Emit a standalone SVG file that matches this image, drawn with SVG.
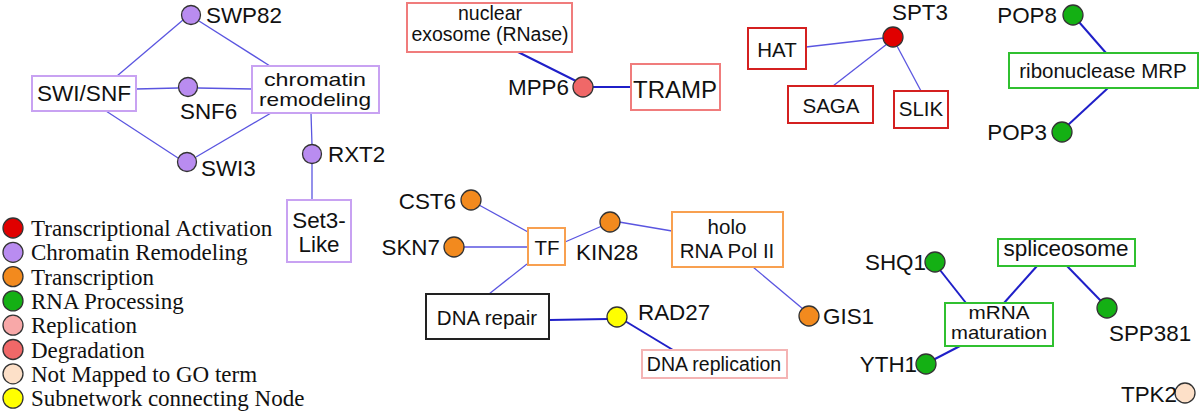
<svg xmlns="http://www.w3.org/2000/svg" width="1200" height="413" viewBox="0 0 1200 413">
<style>
text{font-family:"Liberation Sans",Arial,sans-serif;fill:#111}
.n{font-size:22.4px}
.b{font-size:20.5px;text-anchor:middle}
.lg{font-family:"Liberation Serif","Times New Roman",serif;font-size:23px}
.e{stroke:#5a55e0;stroke-width:1.3;fill:none}
.d{stroke:#1f1fc8;stroke-width:2;fill:none}
circle{stroke:#333;stroke-width:1.3}
rect{fill:#fff;stroke-width:2}
.pu{fill:#b98cf0}.rd{fill:#e00000}.or{fill:#f28a1e}.gr{fill:#14b014}.pk{fill:#f8a8a8}.sa{fill:#f06868}.pe{fill:#fde0c8}.ye{fill:#ffff00}
.bpu{stroke:#c8a2f2}.bsa{stroke:#f07c7c}.brd{stroke:#d42020}.bgr{stroke:#30c030}.bor{stroke:#f8a050}.bbk{stroke:#222}.bpk{stroke:#f4b4b4}
</style>
<g id="connectors">
<line class="e" x1="117" y1="76" x2="183" y2="20"/>
<line class="e" x1="199" y1="21" x2="270" y2="66"/>
<line class="e" x1="136" y1="89" x2="178" y2="88"/>
<line class="e" x1="198" y1="88" x2="252" y2="89"/>
<line class="e" x1="106" y1="111" x2="178" y2="158"/>
<line class="e" x1="196" y1="157" x2="271" y2="113"/>
<line class="e" x1="311" y1="113" x2="312" y2="145"/>
<line class="e" x1="312" y1="164" x2="312" y2="200"/>
<line class="e" x1="806" y1="47" x2="884" y2="38"/>
<line class="e" x1="887" y1="44" x2="833" y2="86"/>
<line class="e" x1="897" y1="46" x2="921" y2="91"/>
<line class="e" x1="479" y1="205" x2="528" y2="232"/>
<line class="e" x1="463" y1="247" x2="528" y2="247"/>
<line class="e" x1="565" y1="242" x2="602" y2="226"/>
<line class="e" x1="619" y1="222" x2="672" y2="231"/>
<line class="e" x1="527" y1="264" x2="489" y2="294"/>
<line class="e" x1="753" y1="267" x2="803" y2="309"/>
<line class="d" x1="518" y1="52" x2="576" y2="81"/>
<line class="d" x1="593" y1="87" x2="631" y2="87"/>
<line class="d" x1="1079" y1="22" x2="1106" y2="53"/>
<line class="d" x1="1108" y1="88" x2="1068" y2="125"/>
<line class="d" x1="549" y1="320" x2="608" y2="319"/>
<line class="d" x1="625" y1="321" x2="673" y2="350"/>
<line class="d" x1="940" y1="270" x2="966" y2="303"/>
<line class="d" x1="1037" y1="266" x2="1004" y2="303"/>
<line class="d" x1="1067" y1="266" x2="1101" y2="301"/>
<line class="d" x1="960" y1="346" x2="933" y2="360"/>
</g>
<g id="SWP82"><circle class="pu" cx="191" cy="15" r="9.5"/><text class="n" x="206" y="23">SWP82</text></g>
<g id="SWI_SNF"><rect class="bpu" x="32" y="76" width="104" height="35"/><text class="b" x="84" y="101" style="font-size:22.6px">SWI/SNF</text></g>
<g id="SNF6"><circle class="pu" cx="188" cy="87" r="9.5"/><text class="n" x="180" y="119">SNF6</text></g>
<g id="chromatin_remodeling"><rect class="bpu" x="252" y="66" width="127" height="47"/><text class="b" x="315" y="86" style="font-size:18.5px" textLength="102" lengthAdjust="spacingAndGlyphs">chromatin</text><text class="b" x="315" y="106" style="font-size:18.5px" textLength="112" lengthAdjust="spacingAndGlyphs">remodeling</text></g>
<g id="SWI3"><circle class="pu" cx="187" cy="162" r="9.5"/><text class="n" x="201" y="176">SWI3</text></g>
<g id="RXT2"><circle class="pu" cx="312" cy="154" r="9.5"/><text class="n" x="328" y="162">RXT2</text></g>
<g id="Set3_Like"><rect class="bpu" x="287" y="200" width="64" height="62"/><text class="b" x="319" y="228" style="font-size:22.4px">Set3-</text><text class="b" x="319" y="252" style="font-size:22.4px">Like</text></g>
<g id="nuclear_exosome"><rect class="bsa" x="407" y="3" width="165" height="49"/><text class="b" x="490" y="20" style="font-size:19.5px">nuclear</text><text class="b" x="490" y="41" style="font-size:19.5px">exosome (RNase)</text></g>
<g id="MPP6"><circle class="sa" cx="583" cy="87" r="10"/><text class="n" x="569" y="95" text-anchor="end">MPP6</text></g>
<g id="TRAMP"><rect class="bsa" x="631" y="64" width="89" height="46"/><text class="b" x="675" y="98" style="font-size:24px">TRAMP</text></g>
<g id="HAT"><rect class="brd" x="748" y="28" width="58" height="41"/><text class="b" x="777" y="57">HAT</text></g>
<g id="SPT3"><circle class="rd" cx="893" cy="37" r="10"/><text class="n" x="892" y="20">SPT3</text></g>
<g id="SAGA"><rect class="brd" x="788" y="86" width="85" height="37"/><text class="b" x="831" y="113">SAGA</text></g>
<g id="SLIK"><rect class="brd" x="894" y="91" width="54" height="37"/><text class="b" x="921" y="116">SLIK</text></g>
<g id="POP8"><circle class="gr" cx="1073" cy="15" r="10"/><text class="n" x="1057" y="23" text-anchor="end">POP8</text></g>
<g id="ribonuclease_MRP"><rect class="bgr" x="1009" y="53" width="189" height="35"/><text class="b" x="1103" y="78">ribonuclease MRP</text></g>
<g id="POP3"><circle class="gr" cx="1062" cy="132" r="10"/><text class="n" x="1047" y="140" text-anchor="end">POP3</text></g>
<g id="CST6"><circle class="or" cx="471" cy="200" r="10"/><text class="n" x="456" y="209" text-anchor="end">CST6</text></g>
<g id="SKN7"><circle class="or" cx="454" cy="247" r="10"/><text class="n" x="440" y="255" text-anchor="end">SKN7</text></g>
<g id="TF"><rect class="bor" x="528" y="228" width="37" height="37"/><text class="b" x="547" y="255">TF</text></g>
<g id="KIN28"><circle class="or" cx="610" cy="222" r="10"/><text class="n" x="576" y="260">KIN28</text></g>
<g id="holo_RNA_Pol_II"><rect class="bor" x="672" y="212" width="111" height="55"/><text class="b" x="727" y="234">holo</text><text class="b" x="727" y="258">RNA Pol II</text></g>
<g id="GIS1"><circle class="or" cx="809" cy="316" r="10"/><text class="n" x="823" y="324">GIS1</text></g>
<g id="DNA_repair"><rect class="bbk" x="426" y="294" width="123" height="45"/><text class="b" x="487" y="325">DNA repair</text></g>
<g id="RAD27"><circle class="ye" cx="617" cy="317" r="10"/><text class="n" x="638" y="320">RAD27</text></g>
<g id="DNA_replication"><rect class="bpk" x="642" y="350" width="145" height="28"/><text class="b" x="714" y="371" style="font-size:19.5px">DNA replication</text></g>
<g id="SHQ1"><circle class="gr" cx="935" cy="262" r="10"/><text class="n" x="926" y="270" text-anchor="end">SHQ1</text></g>
<g id="spliceosome"><rect class="bgr" x="998" y="239" width="137" height="27"/><text class="b" x="1066" y="256" style="font-size:22.5px">spliceosome</text></g>
<g id="mRNA_maturation"><rect class="bgr" x="945" y="303" width="108" height="43"/><text class="b" x="999" y="319" style="font-size:18.5px" textLength="61" lengthAdjust="spacingAndGlyphs">mRNA</text><text class="b" x="999" y="339" style="font-size:18.5px" textLength="96" lengthAdjust="spacingAndGlyphs">maturation</text></g>
<g id="SPP381"><circle class="gr" cx="1107" cy="308" r="10"/><text class="n" x="1109" y="341">SPP381</text></g>
<g id="YTH1"><circle class="gr" cx="926" cy="364" r="10"/><text class="n" x="917" y="372" text-anchor="end">YTH1</text></g>
<g id="TPK2"><circle class="pe" cx="1185" cy="393" r="10"/><text class="n" x="1177" y="402" text-anchor="end">TPK2</text></g>
<g id="legend">
<circle class="rd" cx="13" cy="228" r="10"/><text class="lg" x="31" y="236">Transcriptional Activation</text>
<circle class="pu" cx="13" cy="252.3" r="10"/><text class="lg" x="31" y="260.3">Chromatin Remodeling</text>
<circle class="or" cx="13" cy="276.6" r="10"/><text class="lg" x="31" y="284.6">Transcription</text>
<circle class="gr" cx="13" cy="300.9" r="10"/><text class="lg" x="31" y="308.9">RNA Processing</text>
<circle class="pk" cx="13" cy="325.2" r="10"/><text class="lg" x="31" y="333.2">Replication</text>
<circle class="sa" cx="13" cy="349.5" r="10"/><text class="lg" x="31" y="357.5">Degradation</text>
<circle class="pe" cx="13" cy="373.8" r="10"/><text class="lg" x="31" y="381.8">Not Mapped to GO term</text>
<circle class="ye" cx="13" cy="398.1" r="10"/><text class="lg" x="31" y="406.1">Subnetwork connecting Node</text>
</g>
</svg>
